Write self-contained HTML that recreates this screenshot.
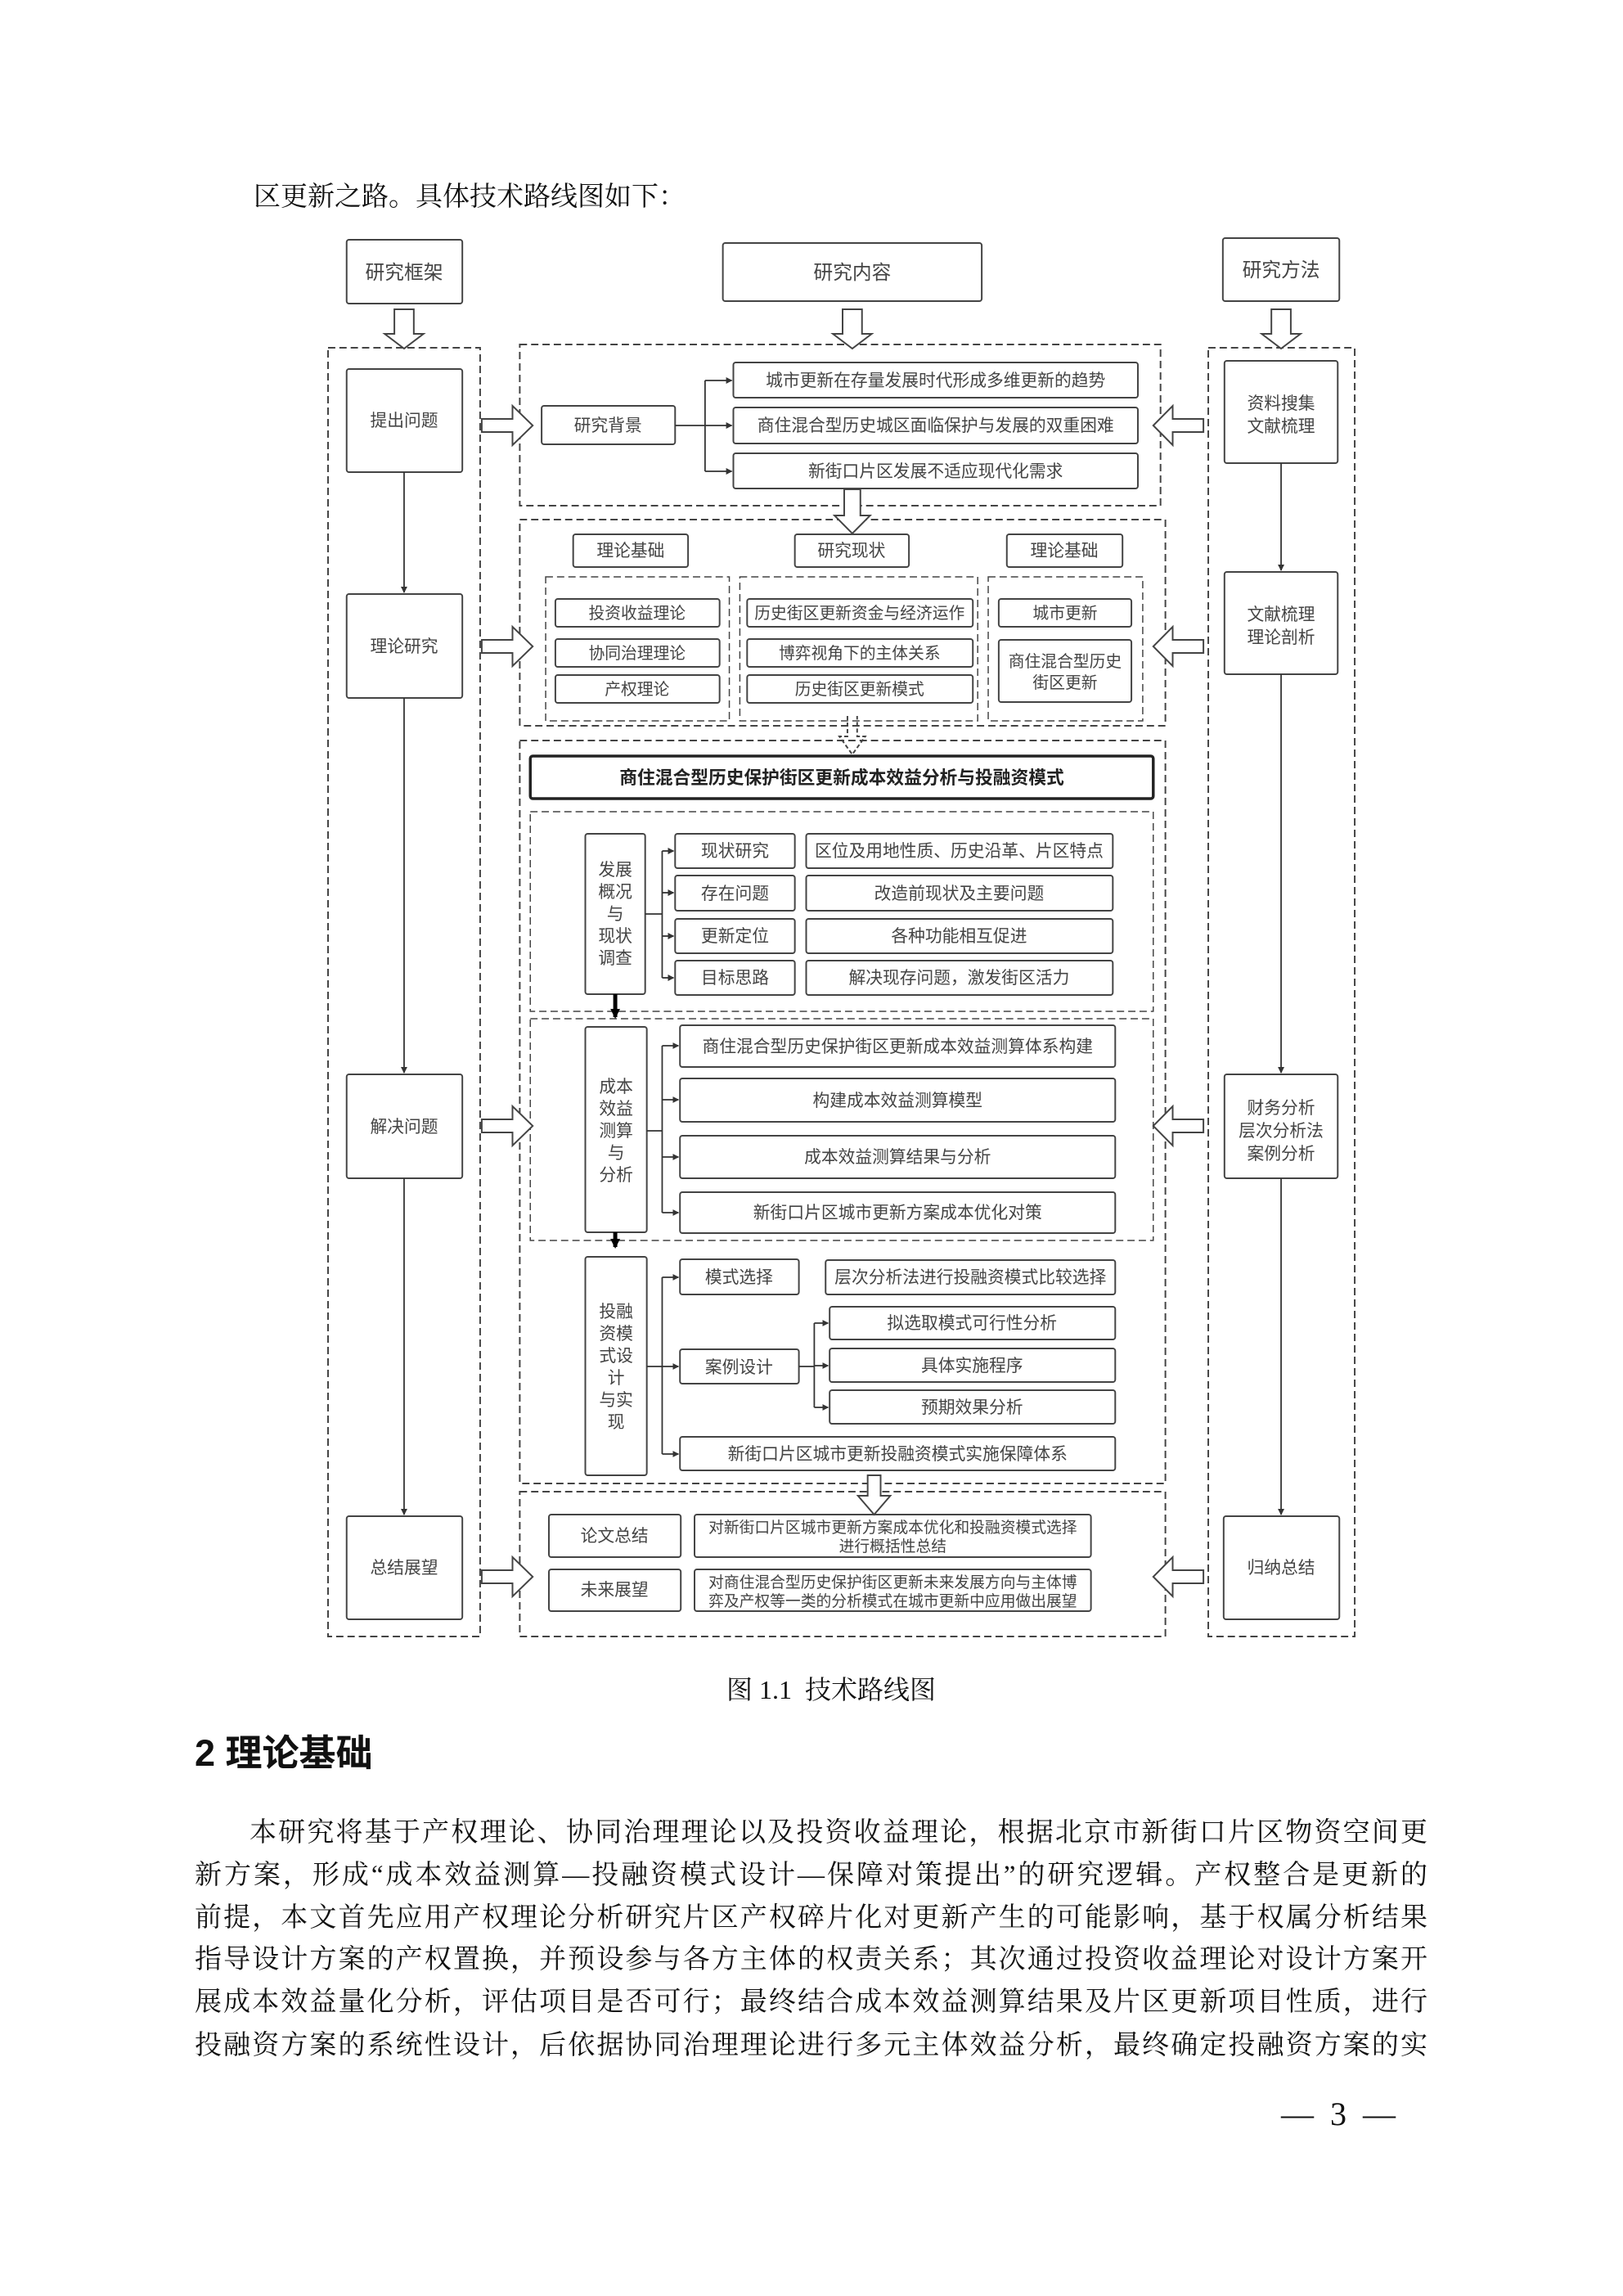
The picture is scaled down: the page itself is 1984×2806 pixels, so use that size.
<!DOCTYPE html>
<html><head><meta charset="utf-8"><style>
body{margin:0;background:#fff;}
#p{position:relative;width:1984px;height:2806px;overflow:hidden;background:#fff;}
.t{position:absolute;font-family:"Liberation Serif","Noto Serif CJK SC",serif;font-size:33px;color:#111;white-space:nowrap;}
.ln{position:absolute;left:238px;width:1507px;font-family:"Liberation Serif","Noto Serif CJK SC",serif;font-size:33px;color:#111;text-align:justify;text-align-last:justify;white-space:nowrap;line-height:40px;}
svg text{font-family:"Liberation Sans","Noto Sans CJK SC",sans-serif;font-size:21px;fill:#444;text-anchor:middle;}
svg g.bx rect{rx:3px;}
</style></head><body><div id="p">
<div class="t" style="left:310px;top:214px;">区更新之路。具体技术路线图如下：</div>

<svg width="1984" height="2806" style="position:absolute;left:0;top:0">
<defs>
<marker id="a" markerWidth="8" markerHeight="8" refX="7" refY="4" orient="auto" markerUnits="userSpaceOnUse"><path d="M0,0 L8,4 L0,8 z" fill="#333"/></marker>
<marker id="b" markerWidth="12" markerHeight="12" refX="10" refY="6" orient="auto" markerUnits="userSpaceOnUse"><path d="M0,0 L12,6 L0,12 z" fill="#000"/></marker>
</defs>
<g transform="matrix(0.989,0,0,1,4.41,0)">
<g fill="none" stroke="#444" stroke-width="2" stroke-dasharray="9 5">
<rect x="401" y="425" width="188" height="1575"/>
<rect x="1489" y="425" width="181" height="1575"/>
<rect x="638" y="421" width="792" height="197"/>
<rect x="638" y="635" width="798" height="252"/>
<rect x="670" y="705" width="227" height="176" stroke-width="1.5"/>
<rect x="910" y="705" width="294" height="176" stroke-width="1.5"/>
<rect x="1217" y="705" width="191" height="176" stroke-width="1.5"/>
<rect x="638" y="905" width="798" height="908"/>
<rect x="651" y="992" width="770" height="244" stroke-width="1.5"/>
<rect x="651" y="1245" width="770" height="271" stroke-width="1.5"/>
<rect x="638" y="1823" width="798" height="177"/>
<path d="M1043,875 V900 H1033 L1049,922 L1065,900 H1055 V875" stroke-dasharray="5 3"/>
</g>
<g class="bx" fill="#fff" stroke="#444" stroke-width="2">
<rect x="424" y="293" width="143" height="78"/>
<rect x="889" y="297" width="320" height="71"/>
<rect x="1507" y="291" width="144" height="77"/>
<rect x="424" y="451" width="143" height="126"/>
<rect x="665" y="496" width="165" height="47"/>
<rect x="902" y="443" width="500" height="43"/>
<rect x="902" y="498" width="500" height="44"/>
<rect x="902" y="554" width="500" height="43"/>
<rect x="1509" y="441" width="140" height="125"/>
<rect x="704" y="653" width="142" height="40"/>
<rect x="978" y="653" width="141" height="40"/>
<rect x="1240" y="653" width="143" height="40"/>
<rect x="682" y="732" width="203" height="34"/>
<rect x="682" y="781" width="203" height="34"/>
<rect x="682" y="825" width="203" height="34"/>
<rect x="919" y="732" width="279" height="34"/>
<rect x="919" y="781" width="279" height="34"/>
<rect x="919" y="825" width="279" height="34"/>
<rect x="1230" y="732" width="164" height="34"/>
<rect x="1230" y="782" width="164" height="76"/>
<rect x="424" y="726" width="143" height="127"/>
<rect x="1509" y="699" width="140" height="125"/>
<rect x="651" y="924" width="770" height="52" stroke="#222" stroke-width="3.5"/>
<rect x="719" y="1019" width="74" height="196"/>
<rect x="830" y="1019" width="148" height="42"/><rect x="992" y="1019" width="379" height="42"/>
<rect x="830" y="1070" width="148" height="43"/><rect x="992" y="1070" width="379" height="43"/>
<rect x="830" y="1123" width="148" height="42"/><rect x="992" y="1123" width="379" height="42"/>
<rect x="830" y="1174" width="148" height="42"/><rect x="992" y="1174" width="379" height="42"/>
<rect x="719" y="1255" width="76" height="251"/>
<rect x="836" y="1253" width="538" height="51"/>
<rect x="836" y="1318" width="538" height="53"/>
<rect x="836" y="1388" width="538" height="52"/>
<rect x="836" y="1457" width="538" height="50"/>
<rect x="424" y="1313" width="143" height="127"/>
<rect x="1509" y="1313" width="140" height="127"/>
<rect x="719" y="1536" width="76" height="267"/>
<rect x="836" y="1539" width="147" height="43"/><rect x="1016" y="1540" width="358" height="42"/>
<rect x="1021" y="1597" width="353" height="40"/>
<rect x="1021" y="1648" width="353" height="41"/>
<rect x="1021" y="1699" width="353" height="41"/>
<rect x="836" y="1649" width="147" height="42"/>
<rect x="836" y="1756" width="538" height="41"/>
<rect x="674" y="1851" width="163" height="52"/><rect x="854" y="1851" width="490" height="52"/>
<rect x="674" y="1918" width="163" height="51"/><rect x="854" y="1918" width="490" height="51"/>
<rect x="424" y="1853" width="143" height="126"/>
<rect x="1508" y="1853" width="143" height="126"/>
</g>
<g fill="#fff" stroke="#444" stroke-width="2">
<path d="M483,378 V408 H471 L495,426 L519,408 H507 V378 Z"/>
<path d="M1037,378 V408 H1025 L1049,426 L1073,408 H1061 V378 Z"/>
<path d="M1567,378 V408 H1555 L1579,426 L1603,408 H1591 V378 Z"/>
<path d="M1039,598 V630 H1027 L1049,652 L1071,630 H1059 V598 Z"/>
<path d="M1068,1803 V1828 H1056 L1076,1851 L1096,1828 H1084 V1803 Z"/>
<path d="M591,512 H629 V496 L654,520 L629,544 V528 H591 Z"/>
<path d="M591,782 H629 V766 L654,790 L629,814 V798 H591 Z"/>
<path d="M591,1368 H629 V1352 L654,1376 L629,1400 V1384 H591 Z"/>
<path d="M591,1919 H629 V1903 L654,1927 L629,1951 V1935 H591 Z"/>
<path d="M1483,512 H1445 V496 L1421,520 L1445,544 V528 H1483 Z"/>
<path d="M1483,782 H1445 V766 L1421,790 L1445,814 V798 H1483 Z"/>
<path d="M1483,1368 H1445 V1352 L1421,1376 L1445,1400 V1384 H1483 Z"/>
<path d="M1483,1919 H1445 V1903 L1421,1927 L1445,1951 V1935 H1483 Z"/>
</g>
<g fill="none" stroke="#333" stroke-width="1.8">
<path d="M495,577 V724" marker-end="url(#a)"/>
<path d="M495,853 V1311" marker-end="url(#a)"/>
<path d="M495,1440 V1851" marker-end="url(#a)"/>
<path d="M1579,566 V697" marker-end="url(#a)"/>
<path d="M1579,824 V1311" marker-end="url(#a)"/>
<path d="M1579,1440 V1851" marker-end="url(#a)"/>
<path d="M830,520 H867 M867,465 V576"/>
<path d="M867,465 H900" marker-end="url(#a)"/><path d="M867,520 H900" marker-end="url(#a)"/><path d="M867,576 H900" marker-end="url(#a)"/>
<path d="M793,1117 H814 M814,1040 V1195"/>
<path d="M814,1040 H828" marker-end="url(#a)"/><path d="M814,1091 H828" marker-end="url(#a)"/><path d="M814,1144 H828" marker-end="url(#a)"/><path d="M814,1195 H828" marker-end="url(#a)"/>
<path d="M795,1382 H814 M814,1278 V1482"/>
<path d="M814,1278 H834" marker-end="url(#a)"/><path d="M814,1344 H834" marker-end="url(#a)"/><path d="M814,1414 H834" marker-end="url(#a)"/><path d="M814,1482 H834" marker-end="url(#a)"/>
<path d="M795,1670 H814 M814,1561 V1777"/>
<path d="M814,1561 H834" marker-end="url(#a)"/><path d="M814,1670 H834" marker-end="url(#a)"/><path d="M814,1777 H834" marker-end="url(#a)"/>
<path d="M983,1670 H1002 M1002,1617 V1720"/>
<path d="M1002,1617 H1019" marker-end="url(#a)"/><path d="M1002,1669 H1019" marker-end="url(#a)"/><path d="M1002,1720 H1019" marker-end="url(#a)"/>
</g>
<g stroke="#000" stroke-width="5" fill="none">
<path d="M756,1215 V1243" marker-end="url(#b)"/>
<path d="M756,1506 V1524" marker-end="url(#b)"/>
</g>
<g>
<text x="495" y="341" style="font-size:24px">研究框架</text>
<text x="1049" y="341" style="font-size:24px">研究内容</text>
<text x="1579" y="338" style="font-size:24px">研究方法</text>
<text x="495" y="521">提出问题</text>
<text x="747" y="527">研究背景</text>
<text x="1152" y="472">城市更新在存量发展时代形成多维更新的趋势</text>
<text x="1152" y="527">商住混合型历史城区面临保护与发展的双重困难</text>
<text x="1152" y="583">新街口片区发展不适应现代化需求</text>
<text x="1579" y="500">资料搜集</text><text x="1579" y="528">文献梳理</text>
<text x="775" y="680">理论基础</text><text x="1048" y="680">研究现状</text><text x="1311" y="680">理论基础</text>
<text x="783" y="756" style="font-size:20px">投资收益理论</text>
<text x="783" y="805" style="font-size:20px">协同治理理论</text>
<text x="783" y="849" style="font-size:20px">产权理论</text>
<text x="1058" y="756" style="font-size:20px">历史街区更新资金与经济运作</text>
<text x="1058" y="805" style="font-size:20px">博弈视角下的主体关系</text>
<text x="1058" y="849" style="font-size:20px">历史街区更新模式</text>
<text x="1312" y="756" style="font-size:20px">城市更新</text>
<text x="1312" y="815" style="font-size:20px">商住混合型历史</text><text x="1312" y="841" style="font-size:20px">街区更新</text>
<text x="495" y="797">理论研究</text>
<text x="1579" y="758">文献梳理</text><text x="1579" y="786">理论剖析</text>
<text x="1036" y="958" style="font-size:22px;font-weight:bold;fill:#222">商住混合型历史保护街区更新成本效益分析与投融资模式</text>
<text x="756" y="1070">发展</text><text x="756" y="1097">概况</text><text x="756" y="1124">与</text><text x="756" y="1151">现状</text><text x="756" y="1178">调查</text>
<text x="904" y="1047">现状研究</text><text x="1181" y="1047">区位及用地性质、历史沿革、片区特点</text>
<text x="904" y="1099">存在问题</text><text x="1181" y="1099">改造前现状及主要问题</text>
<text x="904" y="1151">更新定位</text><text x="1181" y="1151">各种功能相互促进</text>
<text x="904" y="1202">目标思路</text><text x="1181" y="1202">解决现存问题，激发街区活力</text>
<text x="757" y="1335">成本</text><text x="757" y="1362">效益</text><text x="757" y="1389">测算</text><text x="757" y="1416">与</text><text x="757" y="1443">分析</text>
<text x="1105" y="1286">商住混合型历史保护街区更新成本效益测算体系构建</text>
<text x="1105" y="1352">构建成本效益测算模型</text>
<text x="1105" y="1421">成本效益测算结果与分析</text>
<text x="1105" y="1489">新街口片区城市更新方案成本优化对策</text>
<text x="495" y="1384">解决问题</text>
<text x="1579" y="1361">财务分析</text><text x="1579" y="1389">层次分析法</text><text x="1579" y="1417">案例分析</text>
<text x="757" y="1610">投融</text><text x="757" y="1637">资模</text><text x="757" y="1664">式设</text><text x="757" y="1691">计</text><text x="757" y="1718">与实</text><text x="757" y="1745">现</text>
<text x="909" y="1568">模式选择</text><text x="1195" y="1568">层次分析法进行投融资模式比较选择</text>
<text x="1197" y="1624">拟选取模式可行性分析</text>
<text x="1197" y="1676">具体实施程序</text>
<text x="1197" y="1727">预期效果分析</text>
<text x="909" y="1678">案例设计</text>
<text x="1105" y="1784">新街口片区城市更新投融资模式实施保障体系</text>
<text x="755" y="1884">论文总结</text>
<text x="1099" y="1873" style="font-size:19px">对新街口片区城市更新方案成本优化和投融资模式选择</text>
<text x="1099" y="1896" style="font-size:19px">进行概括性总结</text>
<text x="755" y="1950">未来展望</text>
<text x="1099" y="1940" style="font-size:19px">对商住混合型历史保护街区更新未来发展方向与主体博</text>
<text x="1099" y="1963" style="font-size:19px">弈及产权等一类的分析模式在城市更新中应用做出展望</text>
<text x="495" y="1923">总结展望</text>
<text x="1579" y="1923">归纳总结</text>
</g>
</g>
</svg>

<div class="t" style="left:888px;top:2040px;font-size:32px;">图 1.1&nbsp;&nbsp;技术路线图</div>
<div class="t" style="left:238px;top:2106px;font-size:45px;font-weight:bold;font-family:'Liberation Sans','Noto Sans CJK SC',sans-serif;">2 理论基础</div>
<div class="ln" style="top:2220px;left:305px;width:1440px;">本研究将基于产权理论、协同治理理论以及投资收益理论，根据北京市新街口片区物资空间更</div>
<div class="ln" style="top:2272px;">新方案，形成“成本效益测算—投融资模式设计—保障对策提出”的研究逻辑。产权整合是更新的</div>
<div class="ln" style="top:2324px;">前提，本文首先应用产权理论分析研究片区产权碎片化对更新产生的可能影响，基于权属分析结果</div>
<div class="ln" style="top:2375px;">指导设计方案的产权置换，并预设参与各方主体的权责关系；其次通过投资收益理论对设计方案开</div>
<div class="ln" style="top:2427px;">展成本效益量化分析，评估项目是否可行；最终结合成本效益测算结果及片区更新项目性质，进行</div>
<div class="ln" style="top:2480px;">投融资方案的系统性设计，后依据协同治理理论进行多元主体效益分析，最终确定投融资方案的实</div>
<div class="t" style="left:1566px;top:2560px;font-size:40px;">—&nbsp;&nbsp;3&nbsp;&nbsp;—</div>
</div></body></html>
